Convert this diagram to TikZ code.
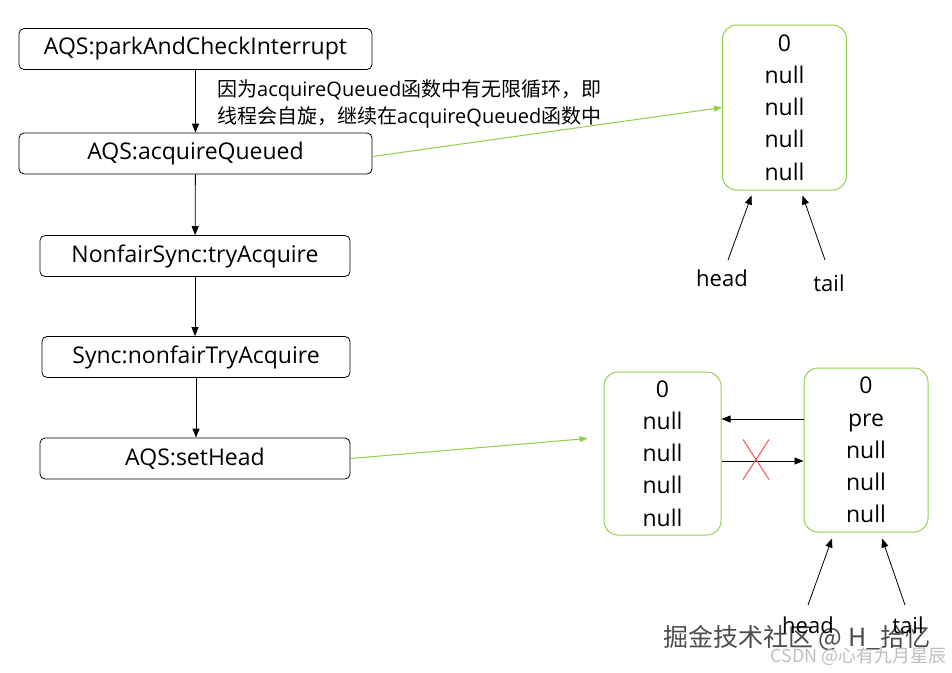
\documentclass[tikz,border=0pt]{standalone}
\usepackage{fontspec}
\setmainfont{Open Sans}
\newfontfamily\cjk{Noto Sans CJK SC}
\usetikzlibrary{arrows.meta,positioning}
\definecolor{qgreen}{HTML}{92D050}
\definecolor{crossred}{HTML}{FF5050}
\tikzset{
  funcbox/.style={draw, line width=0.8pt, rounded corners=5pt, minimum height=41pt,
    inner sep=0pt, font=\fontsize{23}{26}\selectfont},
  qbox/.style={draw=qgreen, line width=1pt, rounded corners=14pt, minimum width=124pt,
    minimum height=165pt, align=center, inner sep=0pt, font=\fontsize{23}{32.2}\selectfont},
  ptr/.style={-{Triangle[length=9pt,width=7pt]}, line width=0.8pt},
  gptr/.style={-{Triangle[length=8pt,width=6pt]}, draw=qgreen, fill=qgreen, line width=1pt},
  lbl/.style={font=\fontsize{22}{24}\selectfont, inner sep=0pt}
}
\begin{document}
\begin{tikzpicture}[x=1pt,y=-1pt]
    \useasboundingbox (0,0) rectangle (952,672);

    % call chain
    \node[funcbox, minimum width=353pt] (park) at (195.5,49) {AQS:parkAndCheckInterrupt};
    \node[funcbox, minimum width=353pt] (acq) at (195.5,153.5) {AQS:acquireQueued};
    \node[funcbox, minimum width=310pt] (try) at (195,256) {NonfairSync:tryAcquire};
    \node[funcbox, minimum width=308pt] (nftry) at (196,357) {Sync:nonfairTryAcquire};
    \node[funcbox, minimum width=310pt] (sethead) at (195,458.5) {AQS:setHead};

    \draw[ptr] (park) -- (acq);
    \draw[ptr] (acq) -- (try);
    \draw[ptr] (try.south) -- (try.south |- nftry.north);
    \draw[ptr] (nftry.south) -- (nftry.south |- sethead.north);

    \node[anchor=west, align=left, inner sep=0pt, font=\fontsize{20}{27}\selectfont] (note) at (217,103.5)
      {{\cjk 因为}acquireQueued{\cjk 函数中有无限循环，即}\\
       {\cjk 线程会自旋，继续在}acquireQueued{\cjk 函数中}};

    % queue before setHead
    \node[qbox] (qa) at (784.5,107.5) {0\\null\\null\\null\\null};
    \node[lbl] (heada) at (722,278) {head};
    \node[lbl] (taila) at (829,283) {tail};
    \draw[ptr] ([xshift=6pt,yshift=18pt]heada.center) -- ([xshift=-33pt,yshift=-5pt]qa.south);
    \draw[ptr] ([xshift=-4pt,yshift=23pt]taila.center) -- ([xshift=18pt,yshift=-5pt]qa.south);
    \draw[gptr] ([yshift=-3pt]acq.east) -- (qa.west);

    % queue after setHead
    \node[qbox, minimum width=117pt, minimum height=163pt] (qb) at (662.5,453.5) {0\\null\\null\\null\\null};
    \node[qbox, minimum width=124pt, minimum height=164pt] (qc) at (866,450) {0\\pre\\null\\null\\null};
    \draw[ptr] ([yshift=31pt]qc.west) -- ([yshift=31pt]qc.west -| qb.east);
    \draw[ptr] ([yshift=-7.5pt]qb.east) -- ([yshift=-7.5pt]qb.east -| qc.west);
    \coordinate (cut) at (756,459.5);
    \draw[crossred, line width=1pt] ([xshift=-13pt,yshift=20pt]cut) -- ([xshift=13pt,yshift=-20pt]cut)
      ([xshift=13pt,yshift=20pt]cut) -- ([xshift=-13pt,yshift=-20pt]cut);
    \coordinate (gend) at ([xshift=-16pt,yshift=15pt]qb.west);
    \draw[gptr] (sethead.east) -- (gend);

    % watermarks
    \node[anchor=west, inner sep=0pt, text=black!70, font=\cjk\fontsize{25}{27}\selectfont] (wm) at (663,638) {掘金技术社区 @ H\_拾忆};
    \node[anchor=east, inner sep=0pt, text=black!25, font=\cjk\fontsize{18}{20}\selectfont] (csdn) at (947,656) {CSDN @心有九月星辰};

    \node[lbl] (headc) at (808,625) {head};
    \node[lbl] (tailc) at (908,625) {tail};
    \draw[ptr] ([yshift=20pt]headc.center) -- ([xshift=-34pt,yshift=-6pt]qc.south);
    \draw[ptr] ([xshift=-3pt,yshift=20pt]tailc.center) -- ([xshift=16pt,yshift=-6pt]qc.south);
\end{tikzpicture}
\end{document}
